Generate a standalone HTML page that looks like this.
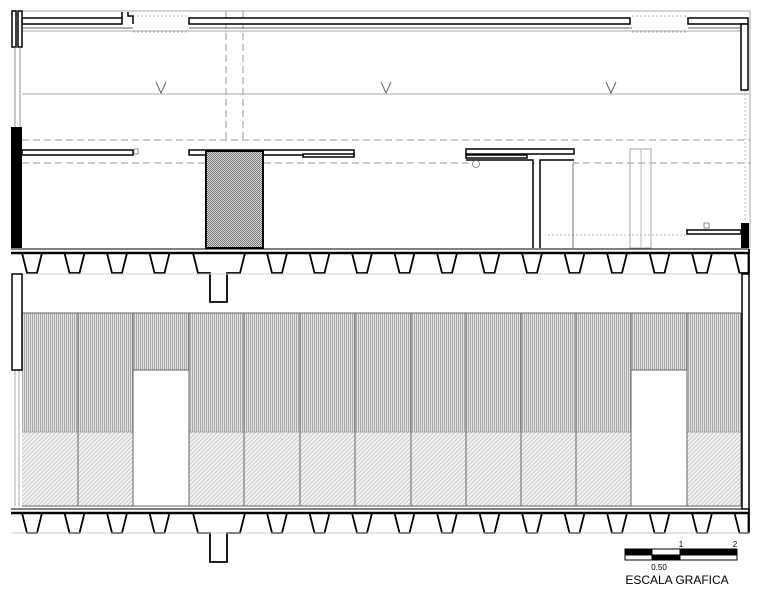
<!DOCTYPE html>
<html><head><meta charset="utf-8"><style>
html,body{margin:0;padding:0;background:#fff;width:761px;height:596px;overflow:hidden}
svg{display:block}
</style></head><body>
<svg width="761" height="596" viewBox="0 0 761 596" xmlns="http://www.w3.org/2000/svg">
<defs>
<pattern id="vh" width="2" height="6" patternUnits="userSpaceOnUse">
<rect width="2" height="6" fill="#e4e4e4"/><rect x="0" width="0.8" height="6" fill="#9a9a9a"/>
</pattern>
<pattern id="dh" width="3" height="3" patternUnits="userSpaceOnUse" patternTransform="rotate(45)">
<rect width="3" height="3" fill="#f4f4f4"/><rect width="0.8" height="3" fill="#bdbdbd"/>
</pattern>
<pattern id="ck" width="2" height="2" patternUnits="userSpaceOnUse">
<rect width="2" height="2" fill="#d8d8d8"/><rect width="1" height="1" fill="#777"/><rect x="1" y="1" width="1" height="1" fill="#777"/>
</pattern>
</defs>

<!-- TOP PLAN -->
<g fill="none" stroke="#aaa" stroke-width="1">
<line x1="22" y1="11" x2="750" y2="11"/>
<line x1="750" y1="11" x2="750" y2="248"/>
<line x1="22" y1="94" x2="750" y2="94"/>
<line x1="22" y1="31" x2="741" y2="31"/>
</g>
<g fill="none" stroke="#999" stroke-width="1" stroke-dasharray="7,4">
<line x1="22" y1="140" x2="750" y2="140"/>
<line x1="22" y1="163" x2="750" y2="163"/>
<line x1="226" y1="11" x2="226" y2="140"/>
<line x1="243" y1="11" x2="243" y2="140"/>
</g>
<g fill="none" stroke="#bbb" stroke-width="1" stroke-dasharray="2,2">
<line x1="133" y1="16" x2="189" y2="16"/>
<line x1="133" y1="32" x2="189" y2="32"/>
<line x1="632" y1="16" x2="688" y2="16"/>
<line x1="632" y1="32" x2="688" y2="32"/>
<line x1="745" y1="90" x2="745" y2="223"/>
<line x1="540" y1="235" x2="687" y2="235"/>
</g>
<g fill="none" stroke="#666" stroke-width="1">
<path d="M156 82 L161 93 L166 82"/>
<path d="M381 82 L386 93 L391 82"/>
<path d="M606 82 L611 93 L616 82"/>
<line x1="22" y1="28" x2="133" y2="28"/>
<line x1="189" y1="28" x2="632" y2="28"/>
<line x1="688" y1="28" x2="741" y2="28"/>
<rect x="630" y="149" width="21" height="99" stroke="#aaa"/>
<line x1="641" y1="149" x2="641" y2="248" stroke="#bbb"/>
<line x1="573" y1="160" x2="573" y2="248" stroke="#777"/>
</g>
<g fill="#fff" stroke="#000" stroke-width="1.5">
<!-- top walls -->
<rect x="22" y="18" width="100" height="6"/>
<line x1="122" y1="12" x2="122" y2="18"/>
<path d="M128 12 V16 H133 V24"/>
<rect x="189" y="18" width="441" height="6"/>
<rect x="688" y="18" width="60" height="6"/>
<rect x="741" y="24" width="7" height="66"/>
<!-- left wall -->
<rect x="12" y="11" width="4" height="36"/>
<rect x="18" y="11" width="4" height="36"/>
<!-- middle walls -->
<rect x="22" y="150" width="111" height="5"/>
<rect x="189" y="150" width="165" height="5"/>
<rect x="303" y="154" width="51" height="3"/>
<rect x="466" y="149" width="108" height="5"/>
<rect x="466" y="155" width="61" height="3"/>
<path d="M466 160 H533 V248 M540 248 V160 H574"/>
<rect x="687" y="230" width="54" height="4"/>
</g>
<rect x="11" y="127" width="11" height="121" fill="#000"/>
<rect x="741" y="223" width="8" height="25" fill="#000"/>
<rect x="206" y="151" width="57" height="97" fill="url(#ck)" stroke="#000" stroke-width="2"/>
<g fill="none" stroke="#777" stroke-width="0.8">
<line x1="15" y1="47" x2="15" y2="127"/><line x1="20" y1="47" x2="20" y2="127"/>
<rect x="134" y="149" width="4" height="5"/>
<circle cx="476" cy="164" r="3.5"/>
<rect x="704" y="223" width="5" height="5"/>
</g>

<!-- DECKS -->
<g fill="none" stroke="#000" stroke-width="1.8" stroke-linejoin="miter">
<line x1="11" y1="249" x2="749" y2="249" stroke-width="1"/>
<line x1="11" y1="253" x2="749" y2="253" stroke-width="2.5"/>
<path d="M749 249 V273"/>
<path id="deck" d="M12 253 H22 l5 20 h10 l5 -20 h22.5 l5 20 h10 l5 -20 h22.5 l5 20 h10 l5 -20 h22.5 l5 20 h10 l5 -20 h23.5 l5 20 h12 v29 h17 v-29 h13 l5 -20 h22 l5 20 h10 l5 -20 h22.5 l5 20 h10 l5 -20 h22.5 l5 20 h10 l5 -20 h22.5 l5 20 h10 l5 -20 h22.5 l5 20 h10 l5 -20 h22.5 l5 20 h10 l5 -20 h22.5 l5 20 h10 l5 -20 h22.5 l5 20 h10 l5 -20 h22.5 l5 20 h10 l5 -20 h22.5 l5 20 h10 l5 -20 h22.5 l5 20 h10 l5 -20 h22.5 l5 20 h9 V253"/>
<g transform="translate(0,260)">
<line x1="11" y1="249" x2="749" y2="249" stroke-width="1"/>
<line x1="11" y1="253" x2="749" y2="253" stroke-width="2.5"/>
<path d="M749 249 V273"/>
<path d="M12 253 H22 l5 20 h10 l5 -20 h22.5 l5 20 h10 l5 -20 h22.5 l5 20 h10 l5 -20 h22.5 l5 20 h10 l5 -20 h23.5 l5 20 h12 v29 h17 v-29 h13 l5 -20 h22 l5 20 h10 l5 -20 h22.5 l5 20 h10 l5 -20 h22.5 l5 20 h10 l5 -20 h22.5 l5 20 h10 l5 -20 h22.5 l5 20 h10 l5 -20 h22.5 l5 20 h10 l5 -20 h22.5 l5 20 h10 l5 -20 h22.5 l5 20 h10 l5 -20 h22.5 l5 20 h10 l5 -20 h22.5 l5 20 h10 l5 -20 h22.5 l5 20 h10 l5 -20 h22.5 l5 20 h9 V253"/>
</g>
</g>
<g stroke="#ccc" stroke-width="1">
<line x1="11" y1="274" x2="750" y2="274"/>
<line x1="11" y1="533" x2="750" y2="533"/>
</g>

<!-- LOWER SECTION -->
<rect x="22" y="313" width="719" height="119" fill="url(#vh)"/>
<rect x="22" y="432" width="719" height="74" fill="url(#dh)"/>
<rect x="133" y="370" width="56" height="136" fill="#fff"/>
<rect x="631" y="370" width="56" height="136" fill="#fff"/>
<g stroke="#666" stroke-width="1" fill="none">
<line x1="22" y1="313" x2="741" y2="313"/>
<line x1="22" y1="506" x2="741" y2="506"/>
<line x1="22" y1="432" x2="133" y2="432" stroke="#aaa"/>
<line x1="189" y1="432" x2="631" y2="432" stroke="#aaa"/>
<line x1="687" y1="432" x2="741" y2="432" stroke="#aaa"/>
<line x1="133" y1="370" x2="189" y2="370"/>
<line x1="631" y1="370" x2="687" y2="370"/>
<path d="M78 313V506M133 313V506M189 313V506M244 313V506M300 313V506M355 313V506M411 313V506M466 313V506M521 313V506M576 313V506M631 313V506M687 313V506M741 313V506"/>
<line x1="15" y1="370" x2="15" y2="506" stroke="#aaa"/>
<line x1="19" y1="370" x2="19" y2="506" stroke="#aaa"/>
</g>
<g fill="#fff" stroke="#000" stroke-width="1.5">
<rect x="12" y="274" width="10" height="96"/>
<rect x="742" y="274" width="7" height="235"/>
</g>

<!-- SCALE -->
<g stroke="#000" stroke-width="1">
<rect x="625" y="549" width="27" height="6" fill="#000"/>
<rect x="652" y="549" width="28" height="6" fill="#fff"/>
<rect x="680" y="549" width="57" height="6" fill="#000"/>
<rect x="625" y="555" width="27" height="5" fill="#fff"/>
<rect x="652" y="555" width="28" height="5" fill="#000"/>
<rect x="680" y="555" width="57" height="5" fill="#fff"/>
</g>
<g font-family="Liberation Sans, sans-serif" fill="#000">
<text x="681" y="547" font-size="8" text-anchor="middle">1</text>
<text x="735" y="547" font-size="8" text-anchor="middle">2</text>
<text x="659" y="570" font-size="8" text-anchor="middle">0.50</text>
<text x="677" y="584" font-size="12" text-anchor="middle">ESCALA GRAFICA</text>
</g>
</svg>
</body></html>
